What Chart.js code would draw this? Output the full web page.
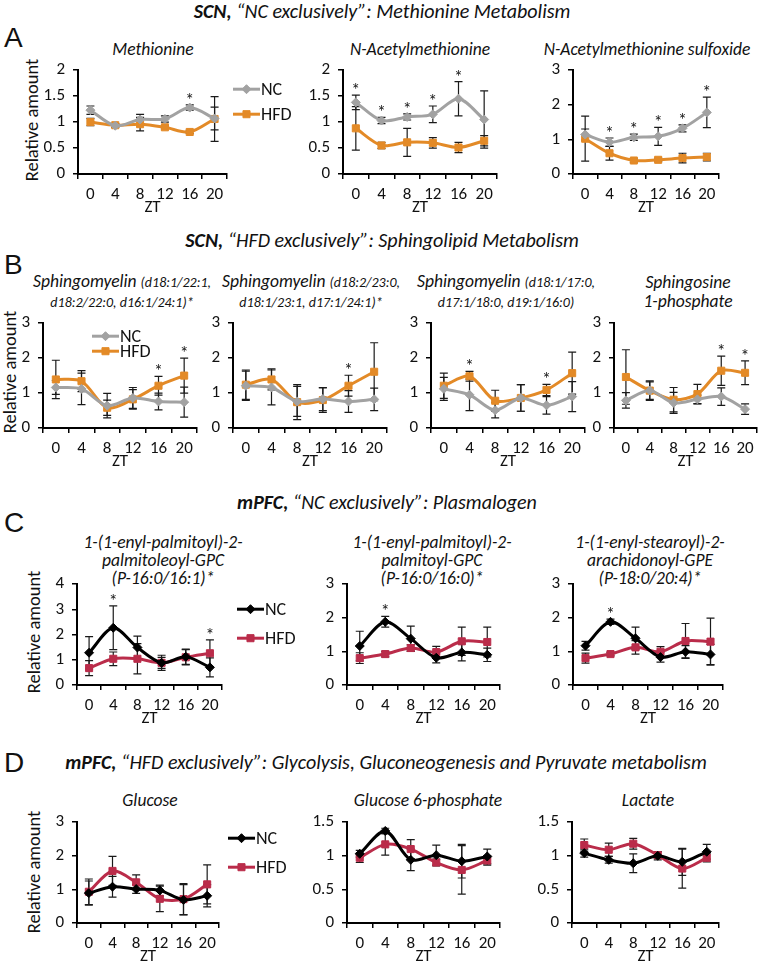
<!DOCTYPE html>
<html><head><meta charset="utf-8">
<script src="https://cdn.jsdelivr.net/npm/chart.js@4"></script>
<style>
body{margin:0;background:#fff;width:764px;height:966px;position:relative;overflow:hidden;font-family:Carlito,Lato,sans-serif;color:#111;}
.t{position:absolute;white-space:nowrap;text-align:center;font-style:italic;transform:translate(-50%,-50%);}
.st{font-size:20px;}
.sub{font-size:17.5px;line-height:19px;}
.sm{font-size:14px;}
.pl{position:absolute;font-family:"Liberation Sans",Arial,sans-serif;font-size:28px;transform:translateY(-50%);}
.yt{position:absolute;white-space:nowrap;font-size:18.5px;transform:translate(-50%,-50%) rotate(-90deg);}
canvas{position:absolute;}
</style></head><body>

<div class="t st" style="left:382px;top:11px"><b>SCN,</b> “NC exclusively”: Methionine Metabolism</div>
<div class="pl" style="left:4px;top:38px">A</div>
<div class="t sub" style="left:153px;top:49px">Methionine</div>
<div class="t sub" style="left:420px;top:49px">N-Acetylmethionine</div>
<div class="t sub" style="left:647px;top:49px">N-Acetylmethionine sulfoxide</div>
<div class="yt" style="left:31px;top:120px">Relative amount</div>

<div class="t st" style="left:382px;top:240px"><b>SCN,</b> “HFD exclusively”: Sphingolipid Metabolism</div>
<div class="pl" style="left:4px;top:265px">B</div>
<div class="t sub" style="left:122px;top:292px">Sphingomyelin <span class="sm">(d18:1/22:1,</span><br><span class="sm">d18:2/22:0, d16:1/24:1)*</span></div>
<div class="t sub" style="left:311px;top:292px">Sphingomyelin <span class="sm">(d18:2/23:0,</span><br><span class="sm">d18:1/23:1, d17:1/24:1)*</span></div>
<div class="t sub" style="left:506px;top:292px">Sphingomyelin <span class="sm">(d18:1/17:0,</span><br><span class="sm">d17:1/18:0, d19:1/16:0)</span></div>
<div class="t sub" style="left:688px;top:292px">Sphingosine<br>1-phosphate</div>
<div class="yt" style="left:9px;top:372px">Relative amount</div>

<div class="t st" style="left:387px;top:502px"><b>mPFC,</b> “NC exclusively”: Plasmalogen</div>
<div class="pl" style="left:4px;top:523px">C</div>
<div class="t sub" style="left:163px;top:560px;line-height:18px">1-(1-enyl-palmitoyl)-2-<br>palmitoleoyl-GPC<br>(P-16:0/16:1)*</div>
<div class="t sub" style="left:432px;top:560px;line-height:18px">1-(1-enyl-palmitoyl)-2-<br>palmitoyl-GPC<br>(P-16:0/16:0)*</div>
<div class="t sub" style="left:650px;top:560px;line-height:18px">1-(1-enyl-stearoyl)-2-<br>arachidonoyl-GPE<br>(P-18:0/20:4)*</div>
<div class="yt" style="left:33px;top:632px">Relative amount</div>

<div class="t st" style="left:386px;top:762px"><b>mPFC,</b> “HFD exclusively”: Glycolysis, Gluconeogenesis and Pyruvate metabolism</div>
<div class="pl" style="left:4px;top:763px">D</div>
<div class="t sub" style="left:150px;top:800px">Glucose</div>
<div class="t sub" style="left:428px;top:800px">Glucose 6-phosphate</div>
<div class="t sub" style="left:648px;top:800px">Lactate</div>
<div class="yt" style="left:33px;top:872px">Relative amount</div>

<script>
// ---------- data ----------
const ZT = ['0','4','8','12','16','20'];

// A: SCN, NC exclusively
const methNC = [1.23, 0.93, 1.05, 1.06, 1.28, 1.07];
const methNCErr = [0.08, 0.03, 0.10, 0.06, 0.05, 0.22];
const methHFD = [1.00, 0.94, 0.96, 0.90, 0.81, 1.06];
const methHFDErr = [0.07, 0.03, 0.13, 0.03, 0.03, 0.43];
const methStars = [4];

const nacNC = [1.38, 1.03, 1.10, 1.15, 1.45, 1.05];
const nacNCErr = [0.14, 0.06, 0.06, 0.16, 0.33, 0.55];
const nacHFD = [0.88, 0.55, 0.61, 0.60, 0.51, 0.64];
const nacHFDErr = [0.42, 0.06, 0.27, 0.10, 0.10, 0.10];
const nacStars = [0, 1, 2, 3, 4];

const sulfNC = [1.14, 0.92, 1.06, 1.09, 1.32, 1.78];
const sulfNCErr = [0.16, 0.12, 0.09, 0.26, 0.10, 0.44];
const sulfHFD = [1.02, 0.60, 0.39, 0.41, 0.46, 0.49];
const sulfHFDErr = [0.65, 0.20, 0.05, 0.05, 0.14, 0.11];
const sulfStars = [1, 2, 3, 4, 5];

// B: SCN, HFD exclusively
const sm1NC = [1.16, 1.12, 0.64, 0.86, 0.76, 0.74];
const sm1NCErr = [0.20, 0.45, 0.35, 0.30, 0.24, 0.43];
const sm1HFD = [1.39, 1.34, 0.58, 0.82, 1.21, 1.50];
const sm1HFDErr = [0.55, 0.30, 0.22, 0.28, 0.27, 0.50];
const sm1Stars = [4, 5];

const sm2NC = [1.21, 1.16, 0.76, 0.83, 0.76, 0.82];
const sm2NCErr = [0.42, 0.50, 0.43, 0.33, 0.31, 0.32];
const sm2HFD = [1.24, 1.39, 0.74, 0.80, 1.21, 1.61];
const sm2HFDErr = [0.42, 0.30, 0.50, 0.35, 0.30, 0.83];
const sm2Stars = [4];

const sm3NC = [1.12, 0.95, 0.51, 0.86, 0.65, 0.90];
const sm3NCErr = [0.33, 0.45, 0.22, 0.38, 0.25, 0.43];
const sm3HFD = [1.21, 1.48, 0.78, 0.86, 1.09, 1.57];
const sm3HFDErr = [0.36, 0.14, 0.30, 0.38, 0.16, 0.60];
const sm3Stars = [1, 4];

const s1pNC = [0.79, 1.07, 0.72, 0.82, 0.90, 0.54];
const s1pNCErr = [0.22, 0.25, 0.30, 0.12, 0.25, 0.15];
const s1pHFD = [1.46, 1.07, 0.81, 0.97, 1.64, 1.58];
const s1pHFDErr = [0.78, 0.28, 0.35, 0.28, 0.42, 0.34];
const s1pStars = [4, 5];

// C: mPFC, NC exclusively
const pc1NC = [1.28, 2.27, 1.49, 0.88, 1.12, 0.70];
const pc1NCErr = [0.64, 0.87, 0.45, 0.30, 0.30, 0.38];
const pc1HFD = [0.67, 1.04, 1.04, 0.88, 1.10, 1.26];
const pc1HFDErr = [0.30, 0.27, 0.60, 0.22, 0.30, 0.53];
const pc1Stars = [1, 5];

const pc2NC = [1.16, 1.88, 1.38, 0.81, 0.97, 0.90];
const pc2NCErr = [0.44, 0.16, 0.37, 0.15, 0.25, 0.20];
const pc2HFD = [0.80, 0.92, 1.10, 0.98, 1.30, 1.28];
const pc2HFDErr = [0.16, 0.08, 0.10, 0.17, 0.42, 0.44];
const pc2Stars = [1];

const pe3NC = [1.17, 1.88, 1.39, 0.83, 0.99, 0.91];
const pe3NCErr = [0.13, 0.08, 0.33, 0.15, 0.18, 0.30];
const pe3HFD = [0.80, 0.92, 1.12, 0.99, 1.31, 1.29];
const pe3HFDErr = [0.15, 0.05, 0.20, 0.15, 0.52, 0.70];
const pe3Stars = [1];

// D: mPFC, HFD exclusively
const gluNC = [0.89, 1.08, 1.01, 0.97, 0.69, 0.81];
const gluNCErr = [0.36, 0.31, 0.13, 0.16, 0.45, 0.33];
const gluHFD = [0.93, 1.55, 1.21, 0.72, 0.71, 1.15];
const gluHFDErr = [0.38, 0.43, 0.22, 0.38, 0.46, 0.58];

const g6pNC = [1.03, 1.37, 0.94, 1.01, 0.92, 0.99];
const g6pNCErr = [0.05, 0.04, 0.16, 0.15, 0.25, 0.11];
const g6pHFD = [0.97, 1.17, 1.10, 0.90, 0.79, 0.93];
const g6pHFDErr = [0.07, 0.16, 0.14, 0.05, 0.36, 0.07];

const lacNC = [1.04, 0.94, 0.89, 1.00, 0.91, 1.06];
const lacNCErr = [0.06, 0.05, 0.14, 0.06, 0.20, 0.11];
const lacHFD = [1.16, 1.09, 1.18, 1.01, 0.81, 0.97];
const lacHFDErr = [0.09, 0.10, 0.08, 0.05, 0.29, 0.06];

// ---------- styling ----------
const FONT = 'Carlito, Lato, sans-serif';
const GRAY = '#A2A2A2', ORANGE = '#E38A27', BLACK = '#000000', CRIMSON = '#BA2C4A';
const YW = 40, XH = 42, PADT = 12;

const errorBars = {
  id: 'errorBars',
  beforeDatasetsDraw(chart) {
    const ctx = chart.ctx, y = chart.scales.y;
    ctx.save();
    ctx.strokeStyle = '#1a1a1a'; ctx.lineWidth = 1.2;
    chart.data.datasets.forEach((ds, di) => {
      const meta = chart.getDatasetMeta(di);
      ds.data.forEach((v, i) => {
        const e = ds.errors[i], px = meta.data[i].x;
        const t = y.getPixelForValue(v + e), b = y.getPixelForValue(v - e);
        ctx.beginPath();
        ctx.moveTo(px, t); ctx.lineTo(px, b);
        ctx.moveTo(px - 4, t); ctx.lineTo(px + 4, t);
        ctx.moveTo(px - 4, b); ctx.lineTo(px + 4, b);
        ctx.stroke();
      });
    });
    ctx.restore();
  }
};

const stars = {
  id: 'stars',
  afterDatasetsDraw(chart, args, opts) {
    if (!opts.indices) return;
    const ctx = chart.ctx, y = chart.scales.y;
    ctx.save();
    ctx.fillStyle = '#111'; ctx.font = '18px ' + FONT;
    ctx.textAlign = 'center'; ctx.textBaseline = 'alphabetic';
    opts.indices.forEach(i => {
      let top = Infinity, px = 0;
      chart.data.datasets.forEach((ds, di) => {
        top = Math.min(top, y.getPixelForValue(ds.data[i] + ds.errors[i]));
        px = chart.getDatasetMeta(di).data[i].x;
      });
      ctx.fillText('*', px, top + 1);
    });
    ctx.restore();
  }
};

const miniLegend = {
  id: 'miniLegend',
  afterDraw(chart, args, opts) {
    if (!opts.show) return;
    const ctx = chart.ctx, a = chart.chartArea;
    const x0 = (opts.from === 'left' ? a.left : a.right) + opts.dx;
    chart.data.datasets.forEach((ds, di) => {
      const yy = a.top + opts.dy[di];
      ctx.save();
      ctx.strokeStyle = ds.borderColor; ctx.lineWidth = 3;
      ctx.beginPath(); ctx.moveTo(x0, yy); ctx.lineTo(x0 + 27, yy); ctx.stroke();
      ctx.fillStyle = ds.pointBackgroundColor; ctx.strokeStyle = ds.borderColor; ctx.lineWidth = 1;
      Chart.helpers.drawPoint(ctx, {pointStyle: ds.pointStyle, radius: ds.pointRadius, rotation: 0, borderWidth: 1}, x0 + 13.5, yy);
      ctx.fillStyle = '#111'; ctx.font = '18px ' + FONT; ctx.textAlign = 'left'; ctx.textBaseline = 'middle';
      ctx.fillText(ds.label, x0 + 28, yy + 1);
      ctx.restore();
    });
  }
};

function makeChart(p) {
  const c = document.createElement('canvas');
  const padR = p.padR || 6;
  const w = (p.ar - p.ax) + YW + padR, h = (p.ab - p.at) + PADT + XH;
  c.width = w; c.height = h;
  c.style.left = (p.ax - YW) + 'px'; c.style.top = (p.at - PADT) + 'px';
  c.style.width = w + 'px'; c.style.height = h + 'px';
  document.body.appendChild(c);
  const ds = (label, data, errors, color, style, r) => ({
    label, data, errors, borderColor: color, backgroundColor: color, pointBackgroundColor: color,
    pointBorderColor: color, pointStyle: style, pointRadius: r, pointBorderWidth: 1,
    borderWidth: 3, tension: 0.3, fill: false
  });
  new Chart(c, {
    type: 'line',
    data: {
      labels: ZT,
      datasets: [
        ds('NC', p.nc, p.ncErr, p.ncColor, 'rectRot', 4.5),
        ds('HFD', p.hfd, p.hfdErr, p.hfdColor, 'rect', 5)
      ]
    },
    options: {
      responsive: false, animation: false, devicePixelRatio: 1,
      layout: {padding: {top: PADT, right: padR, left: 0, bottom: 0}},
      plugins: {
        legend: {display: false}, tooltip: {enabled: false},
        stars: {indices: p.stars},
        miniLegend: p.legend || {show: false}
      },
      scales: {
        x: {
          type: 'category', offset: true,
          grid: {display: true, drawOnChartArea: false, drawTicks: true, tickLength: 5, offset: true, color: '#000', lineWidth: 1.5},
          border: {display: true, color: '#000', width: 2},
          ticks: {color: '#111', font: {family: FONT, size: 17, lineHeight: 1}, padding: 7, maxRotation: 0, autoSkip: false},
          title: {display: true, text: 'ZT', color: '#111', font: {family: FONT, size: 17, lineHeight: 1}, padding: 0},
          afterFit: s => { s.height = XH; }
        },
        y: {
          min: 0, max: p.ymax,
          grid: {display: true, drawOnChartArea: false, drawTicks: true, tickLength: 5, color: '#000', lineWidth: 1.5},
          border: {display: true, color: '#000', width: 2},
          ticks: {stepSize: p.step, color: '#111', font: {family: FONT, size: 17}, padding: 8,
                  callback: v => String(Math.round(v * 100) / 100)},
          afterFit: s => { s.width = YW; }
        }
      }
    },
    plugins: [errorBars, stars, miniLegend]
  });
}

const AB = {ncColor: GRAY, hfdColor: ORANGE};
const CD = {ncColor: BLACK, hfdColor: CRIMSON};

// A
makeChart({...AB, ax: 78, ar: 227, at: 64, ab: 174, ymax: 2, step: 0.5, padR: 90,
  nc: methNC, ncErr: methNCErr, hfd: methHFD, hfdErr: methHFDErr, stars: methStars,
  legend: {show: true, from: 'right', dx: 6, dy: [19, 44]}});
makeChart({...AB, ax: 343, ar: 497, at: 64, ab: 174, ymax: 2, step: 0.5,
  nc: nacNC, ncErr: nacNCErr, hfd: nacHFD, hfdErr: nacHFDErr, stars: nacStars});
makeChart({...AB, ax: 573, ar: 719, at: 64, ab: 174, ymax: 3, step: 1,
  nc: sulfNC, ncErr: sulfNCErr, hfd: sulfHFD, hfdErr: sulfHFDErr, stars: sulfStars});
// B
makeChart({...AB, ax: 43, ar: 197, at: 317, ab: 428, ymax: 3, step: 1,
  nc: sm1NC, ncErr: sm1NCErr, hfd: sm1HFD, hfdErr: sm1HFDErr, stars: sm1Stars,
  legend: {show: true, from: 'left', dx: 49, dy: [13, 28]}});
makeChart({...AB, ax: 233, ar: 387, at: 317, ab: 428, ymax: 3, step: 1,
  nc: sm2NC, ncErr: sm2NCErr, hfd: sm2HFD, hfdErr: sm2HFDErr, stars: sm2Stars});
makeChart({...AB, ax: 431, ar: 585, at: 317, ab: 428, ymax: 3, step: 1,
  nc: sm3NC, ncErr: sm3NCErr, hfd: sm3HFD, hfdErr: sm3HFDErr, stars: sm3Stars});
makeChart({...AB, ax: 614, ar: 761, at: 317, ab: 428, ymax: 3, step: 1, padR: 2,
  nc: s1pNC, ncErr: s1pNCErr, hfd: s1pHFD, hfdErr: s1pHFDErr, stars: s1pStars});
// C
makeChart({...CD, ax: 77, ar: 222, at: 578, ab: 685, ymax: 4, step: 1, padR: 95,
  nc: pc1NC, ncErr: pc1NCErr, hfd: pc1HFD, hfdErr: pc1HFDErr, stars: pc1Stars,
  legend: {show: true, from: 'right', dx: 15, dy: [25, 54]}});
makeChart({...CD, ax: 347, ar: 500, at: 578, ab: 685, ymax: 3, step: 1,
  nc: pc2NC, ncErr: pc2NCErr, hfd: pc2HFD, hfdErr: pc2HFDErr, stars: pc2Stars});
makeChart({...CD, ax: 573, ar: 723, at: 578, ab: 685, ymax: 3, step: 1,
  nc: pe3NC, ncErr: pe3NCErr, hfd: pe3HFD, hfdErr: pe3HFDErr, stars: pe3Stars});
// D
makeChart({...CD, ax: 77, ar: 219, at: 816, ab: 923, ymax: 3, step: 1, padR: 95,
  nc: gluNC, ncErr: gluNCErr, hfd: gluHFD, hfdErr: gluHFDErr, stars: [],
  legend: {show: true, from: 'right', dx: 9, dy: [16, 45]}});
makeChart({...CD, ax: 347, ar: 500, at: 816, ab: 923, ymax: 1.5, step: 0.5,
  nc: g6pNC, ncErr: g6pNCErr, hfd: g6pHFD, hfdErr: g6pHFDErr, stars: []});
makeChart({...CD, ax: 572, ar: 719, at: 816, ab: 923, ymax: 1.5, step: 0.5,
  nc: lacNC, ncErr: lacNCErr, hfd: lacHFD, hfdErr: lacHFDErr, stars: []});
</script>
</body></html>
